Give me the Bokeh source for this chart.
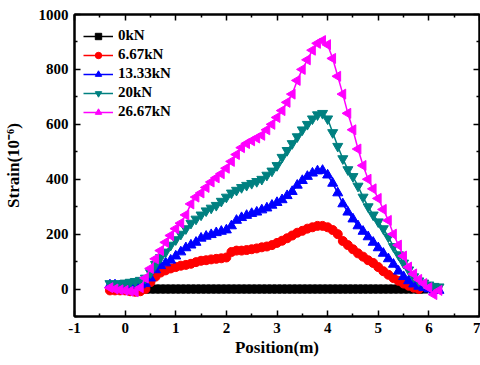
import math
from bokeh.plotting import figure
from bokeh.models import LinearAxis, Range1d, FixedTicker, Legend
from bokeh.embed import file_html
from bokeh.resources import INLINE

# ---- data ----
positions = [-0.3, -0.2, -0.1, 0.0, 0.1, 0.2, 0.3, 0.4, 0.5, 0.6, 0.7, 0.8, 0.9,
             1.0, 1.1, 1.2, 1.3, 1.4, 1.5, 1.6, 1.7, 1.8, 1.9, 2.0, 2.1, 2.2,
             2.3, 2.4, 2.5, 2.6, 2.7, 2.8, 2.9, 3.0, 3.1, 3.2, 3.3, 3.4, 3.5,
             3.6, 3.7, 3.8, 3.9, 4.0, 4.1, 4.2, 4.3, 4.4, 4.5, 4.6, 4.7, 4.8,
             4.9, 5.0, 5.1, 5.2, 5.3, 5.4, 5.5, 5.6, 5.7, 5.8, 5.9, 6.0, 6.1, 6.2]

positions_0kN = [0.4, 0.5, 0.6, 0.7, 0.8, 0.9, 1.0, 1.1, 1.2, 1.3, 1.4, 1.5, 1.6,
                 1.7, 1.8, 1.9, 2.0, 2.1, 2.2, 2.3, 2.4, 2.5, 2.6, 2.7, 2.8, 2.9,
                 3.0, 3.1, 3.2, 3.3, 3.4, 3.5, 3.6, 3.7, 3.8, 3.9, 4.0, 4.1, 4.2,
                 4.3, 4.4, 4.5, 4.6, 4.7, 4.8, 4.9, 5.0, 5.1, 5.2, 5.3, 5.4, 5.5,
                 5.6, 5.7, 5.8, 5.9]
strain_0kN = [0, 0, 0, 0, 0, 0, 0, 0, 0, 0, 0, 0, 0, 0, 0, 0, 0, 0, 0, 0, 0, 0,
              0, 0, 0, 0, 0, 0, 0, 0, 0, 0, 0, 0, 0, 0, 0, 0, 0, 0, 0, 0, 0, 0,
              0, 0, 0, 0, 0, 0, 0, 0, 0, 0, 0, 0]

positions_6kN = [-0.3, -0.2, -0.1, 0.0, 0.1, 0.2, 0.3, 0.4, 0.5, 0.6, 0.7, 0.8, 0.9,
                 1.0, 1.1, 1.2, 1.3, 1.4, 1.5, 1.6, 1.7, 1.8, 1.9, 2.0, 2.1, 2.2,
                 2.3, 2.4, 2.5, 2.6, 2.7, 2.8, 2.9, 3.0, 3.1, 3.2, 3.3, 3.4, 3.5,
                 3.6, 3.7, 3.8, 3.9, 4.0, 4.1, 4.2, 4.3, 4.4, 4.5, 4.6, 4.7, 4.8,
                 4.9, 5.0, 5.1, 5.2, 5.3, 5.4, 5.5, 5.6, 5.7, 5.8]
strain_6kN = [-5, -5, -5, -5, -8, -10, -8, 0, 25, 45, 60, 68, 75,
              80, 85, 88, 92, 98, 103, 105, 108, 110, 112, 115, 135, 140,
              140, 142, 145, 148, 152, 155, 160, 168, 176, 185, 195, 205, 212,
              220, 225, 230, 230, 225, 215, 200, 175, 160, 145, 130, 118, 105,
              95, 80, 65, 52, 40, 30, 20, 12, 5, 0]

strain_13kN = [15, 15, 12, 12, 15, 15, 15, 20, 40, 70, 85, 95, 105,
               120, 135, 150, 160, 170, 185, 192, 198, 205, 210, 215, 230, 250,
               260, 268, 275, 280, 288, 295, 305, 315, 325, 340, 355, 378, 395,
               410, 422, 430, 432, 415, 385, 350, 310, 280, 255, 230, 210, 190,
               170, 150, 130, 110, 90, 65, 45, 30, 18, 10, 5, 0, -5, -5]

strain_20kN = [20, 18, 20, 22, 25, 28, 32, 40, 60, 90, 115, 135, 160,
               180, 200, 220, 240, 255, 270, 285, 295, 305, 320, 335, 350, 360,
               370, 378, 385, 392, 400, 415, 430, 450, 480, 505, 530, 555, 580,
               600, 620, 635, 640, 620, 570, 520, 475, 435, 410, 375, 335, 300,
               270, 245, 220, 190, 155, 125, 95, 70, 45, 30, 22, 15, 10, 8]

strain_26kN = [5, 0, -3, -5, -8, -10, 5, 40, 75, 110, 140, 170, 195,
               220, 240, 270, 310, 335, 350, 370, 390, 405, 420, 440, 465, 490,
               515, 530, 540, 550, 560, 580, 600, 625, 650, 680, 710, 760, 800,
               835, 870, 895, 905, 890, 840, 775, 710, 640, 580, 510, 450, 400,
               365, 330, 290, 250, 200, 160, 120, 80, 55, 35, 20, 5, -20, -5]

x_ticks = [-1, 0, 1, 2, 3, 4, 5, 6, 7]
x_tick_labels = ["-1", "0", "1", "2", "3", "4", "5", "6", "7"]
x_minor = [-0.5, 0.5, 1.5, 2.5, 3.5, 4.5, 5.5, 6.5]
y_ticks = [0, 200, 400, 600, 800, 1000]
y_minor = [-100, 100, 300, 500, 700, 900]

FONT = "Liberation Serif"

p = figure(width=480, height=365, output_backend="svg", toolbar_location=None,
           x_range=Range1d(-1, 7), y_range=Range1d(-100, 1000),
           min_border_left=70, min_border_right=1, min_border_top=14,
           min_border_bottom=49)
p.xgrid.visible = False
p.ygrid.visible = False
p.outline_line_color = "black"
p.outline_line_width = 2
p.background_fill_color = "white"
p.border_fill_color = "white"

series = [
    ("0kN", positions_0kN, strain_0kN, "black", "square", 0.0, 8),
    ("6.67kN", positions_6kN, strain_6kN, "red", "circle", 0.0, 9),
    ("13.33kN", positions, strain_13kN, "blue", "triangle", 0.0, 10),
    ("20kN", positions, strain_20kN, "#008080", "inverted_triangle", 0.0, 10),
    ("26.67kN", positions, strain_26kN, "#FF00FF", "triangle", math.pi / 2, 10),
]

legend_items = []
for label, xs, ys, color, marker, ang, size in series:
    l = p.line(xs, ys, line_color=color, line_width=1.5)
    s = p.scatter(xs, ys, marker=marker, angle=ang, size=size,
                  fill_color=color, line_color=color)
    legend_items.append((label, [l, s]))

legend = Legend(items=legend_items, location=(9, 196))
legend.border_line_color = None
legend.background_fill_alpha = 0
legend.label_text_font = FONT
legend.label_text_font_style = "bold"
legend.label_text_font_size = "15px"
legend.label_text_color = "black"
legend.glyph_width = 30
legend.glyph_height = 16
legend.label_height = 16
legend.spacing = 2
legend.padding = 5
legend.margin = 0
legend.label_standoff = 5
p.add_layout(legend)

def style_axis(ax):
    ax.axis_line_width = 2
    ax.axis_line_color = "black"
    ax.major_tick_in = 6
    ax.major_tick_out = 0
    ax.minor_tick_in = 3
    ax.minor_tick_out = 0
    ax.major_tick_line_width = 1.5
    ax.minor_tick_line_width = 1.5
    ax.major_label_text_font = FONT
    ax.major_label_text_font_style = "bold"
    ax.major_label_text_font_size = "15px"
    ax.major_label_text_color = "black"
    ax.axis_label_text_font = FONT
    ax.axis_label_text_font_style = "bold"
    ax.axis_label_text_font_size = "17px"
    ax.axis_label_text_color = "black"

xax = p.xaxis[0]
xax.ticker = FixedTicker(ticks=x_ticks, minor_ticks=x_minor)
xax.major_label_overrides = {t: s for t, s in zip(x_ticks, x_tick_labels)}
xax.axis_label = "Position(m)"
style_axis(xax)
xax.major_label_standoff = 6
xax.axis_label_standoff = 2

yax = p.yaxis[0]
yax.ticker = FixedTicker(ticks=y_ticks, minor_ticks=y_minor)
yax.axis_label = "Strain(10\u207b\u2076)"
style_axis(yax)
yax.major_label_standoff = 6
yax.axis_label_standoff = 13

top = LinearAxis(ticker=FixedTicker(ticks=x_ticks, minor_ticks=x_minor))
style_axis(top)
top.major_label_overrides = {t: "" for t in x_ticks}
top.major_label_standoff = 0
p.add_layout(top, "above")

right = LinearAxis(ticker=FixedTicker(ticks=y_ticks, minor_ticks=y_minor))
style_axis(right)
right.major_label_overrides = {t: "" for t in y_ticks}
right.major_label_standoff = 0
p.add_layout(right, "right")

open("out.html", "w").write(file_html(p, INLINE))
